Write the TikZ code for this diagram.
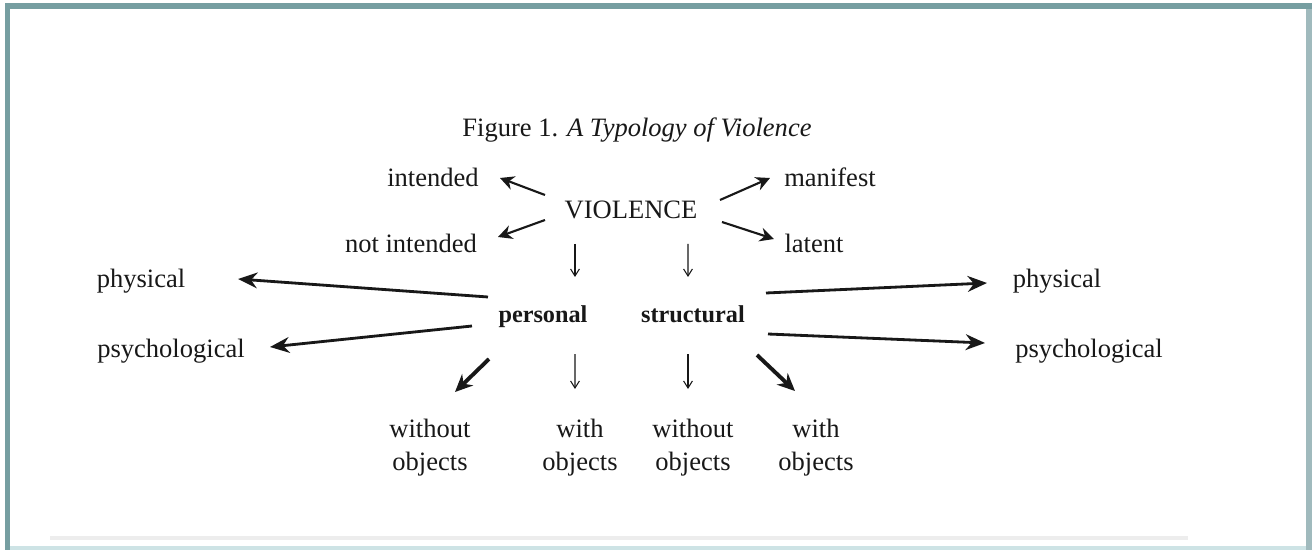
\documentclass[tikz,border=0pt]{standalone}
\usepackage{fontspec}
\setmainfont{Liberation Serif}
\usepackage{tikz}
\usetikzlibrary{arrows.meta}
\usepackage{xcolor}
\definecolor{frameteal}{RGB}{118,158,161}
\definecolor{frameside}{RGB}{160,186,189}
\definecolor{framelow}{RGB}{205,227,229}
\definecolor{inkgray}{RGB}{24,24,24}

\begin{document}
\begin{tikzpicture}[
    lbl/.style={anchor=base, inner sep=0pt, text=inkgray,
                font=\fontsize{15.1}{18.8}\selectfont},
    kind/.style={anchor=base, inner sep=0pt, text=inkgray,
                 font=\fontsize{13.8}{16}\selectfont\bfseries},
    leaf/.style={anchor=north, inner sep=0pt, align=center, text=inkgray,
                 font=\fontsize{15.1}{18.8}\selectfont},
    midarr/.style={-{Stealth[length=8pt,width=8pt]}, line width=1.2pt, inkgray},
    thinarr/.style={-{Straight Barb[length=4pt,width=5pt]}, line width=0.6pt, inkgray},
    longarr/.style={-{Stealth[length=11pt,width=9pt]}, line width=1.6pt, inkgray},
    diagarr/.style={-{Stealth[length=10pt,width=9pt]}, line width=2.2pt, inkgray}
]
\useasboundingbox (-12.62,-6.80) rectangle (13.62,4.20);
\fill[white] (-12.62,-6.80) rectangle (13.62,4.20);
\fill[frameteal] (-12.52,4.02) rectangle (13.62,4.14);
\fill[frameteal] (-12.52,-6.80) rectangle (-12.42,4.14);
\fill[frameside] (13.50,-6.80) rectangle (13.62,4.02);
\fill[framelow] (-12.42,-6.80) rectangle (13.50,-6.72);
\fill[gray!14] (-11.62,-6.60) rectangle (11.14,-6.52);

\node[lbl] (title) at (0.12,1.46) {Figure 1. \textit{A Typology of Violence}};
\node[lbl] (violence) at (0,-0.18) {VIOLENCE};
\node[lbl] (intended) at (-3.96,0.46) {intended};
\node[lbl] (manifest) at (3.98,0.46) {manifest};
\node[lbl] (notint) at (-4.40,-0.86) {not intended};
\node[lbl] (latent) at (3.66,-0.86) {latent};

\node[kind] (personal) at (-1.76,-2.24) {personal};
\node[kind] (structural) at (1.24,-2.24) {structural};

\node[lbl] (physL) at (-9.80,-1.56) {physical};
\node[lbl] (psychL) at (-9.20,-2.94) {psychological};
\node[lbl] (physR) at (8.52,-1.56) {physical};
\node[lbl] (psychR) at (9.16,-2.94) {psychological};

\node[leaf] (pwithout) at (-4.02,-4.18) {without\\objects};
\node[leaf] (pwith) at (-1.02,-4.18) {with\\objects};
\node[leaf] (swithout) at (1.24,-4.18) {without\\objects};
\node[leaf] (swith) at (3.70,-4.18) {with\\objects};

\draw[midarr] ([shift={(-1.72,0.48)}]violence.base) -- ([shift={(1.34,0.18)}]intended.base);
\draw[midarr] ([shift={(-1.72,-0.02)}]violence.base) -- ([shift={(1.74,0.32)}]notint.base);
\draw[midarr] ([shift={(1.78,0.38)}]violence.base) -- ([shift={(-1.20,0.18)}]manifest.base);
\draw[midarr] ([shift={(1.82,-0.06)}]violence.base) -- ([shift={(-0.80,0.28)}]latent.base);

\draw[thinarr] ([shift={(-1.12,-0.50)}]violence.base) -- ([shift={(0.64,0.90)}]personal.base);
\draw[thinarr] ([shift={(1.14,-0.50)}]violence.base) -- ([shift={(-0.10,0.90)}]structural.base);

\draw[longarr] ([shift={(-1.10,0.50)}]personal.base) -- ([shift={(1.94,0.18)}]physL.base);
\draw[longarr] ([shift={(-1.42,-0.08)}]personal.base) -- ([shift={(1.98,0.20)}]psychL.base);
\draw[longarr] ([shift={(1.46,0.58)}]structural.base) -- ([shift={(-1.40,0.10)}]physR.base);
\draw[longarr] ([shift={(1.50,-0.24)}]structural.base) -- ([shift={(-2.08,0.28)}]psychR.base);

\draw[diagarr] ([shift={(-1.08,-0.74)}]personal.base) -- ([shift={(0.50,0.54)}]pwithout.north);
\draw[thinarr] ([shift={(0.64,-0.64)}]personal.base) -- ([shift={(-0.10,0.60)}]pwith.north);
\draw[thinarr] ([shift={(-0.10,-0.64)}]structural.base) -- ([shift={(-0.10,0.60)}]swithout.north);
\draw[diagarr] ([shift={(1.28,-0.66)}]structural.base) -- ([shift={(-0.42,0.56)}]swith.north);
\end{tikzpicture}
\end{document}
